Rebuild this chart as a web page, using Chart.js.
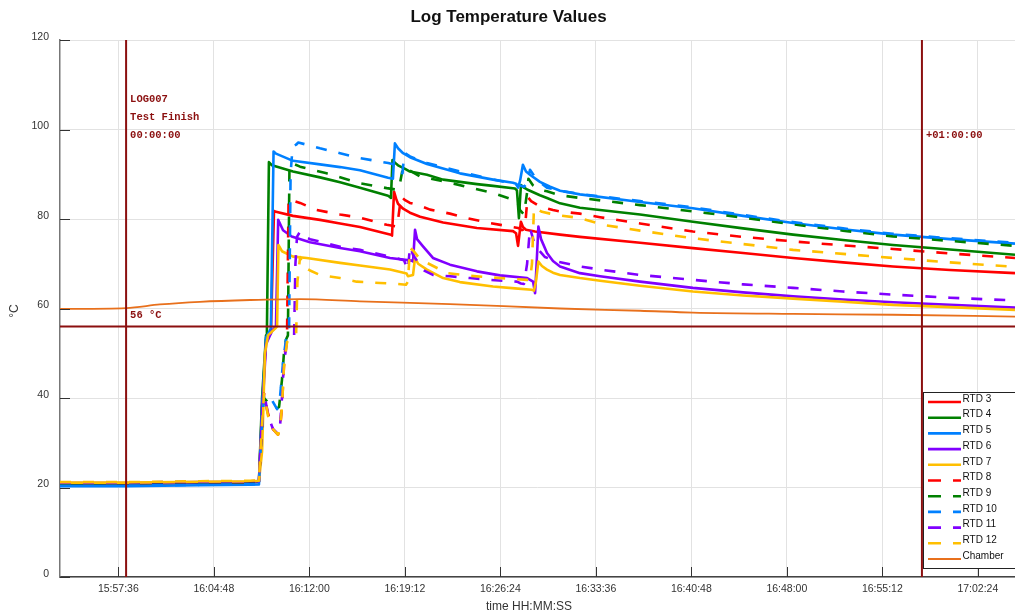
<!DOCTYPE html>
<html>
<head>
<meta charset="utf-8">
<title>Log Temperature Values</title>
<script src="https://cdn.jsdelivr.net/npm/chart.js@4.4.0/dist/chart.umd.min.js"></script>
<style>
    html, body { margin: 0; padding: 0; background: #fff; overflow: hidden; }
    canvas { display: block; }
</style>
</head>
<body>
<canvas id="chart" width="1015" height="615"></canvas>
<script>
// axis range and ticks
const xStart = '15:53:12';
const xEnd = '17:05:12';
const xTickLabels = ['15:57:36', '16:04:48', '16:12:00', '16:19:12', '16:26:24',
                     '16:33:36', '16:40:48', '16:48:00', '16:55:12', '17:02:24'];
const yTickValues = [0, 20, 40, 60, 80, 100, 120];

// event markers
const markerTimes = ['15:58:11', '16:58:11'];
const markerNotes = [['LOG007', 'Test Finish', '00:00:00'], ['+01:00:00']];
const thresholdValue = 56;
const thresholdNote = '56 °C';

const seriesNames = ['RTD 3', 'RTD 4', 'RTD 5', 'RTD 6', 'RTD 7', 'RTD 8',
                     'RTD 9', 'RTD 10', 'RTD 11', 'RTD 12', 'Chamber'];

// RTD 3
const rtd3Times = ['15:53:12','15:58:11','16:03:45','16:07:32','16:08:12','16:08:26','16:08:44','16:09:06','16:09:20','16:09:29',
    '16:10:46','16:12:48','16:14:19','16:15:49','16:18:09','16:18:14','16:18:23','16:18:32','16:18:41','16:19:04',
    '16:19:35','16:20:21','16:22:05','16:24:38','16:27:21','16:27:35','16:27:44','16:27:57','16:28:06','16:28:20',
    '16:29:01','16:30:54','16:32:24','16:36:56','16:40:55','16:44:42','16:48:28','16:52:14','16:56:00','17:00:18','17:05:12'];
const rtd3Values = [20.7,20.8,21.0,21.1,21.3,38,53,54.5,81.8,81.6,
    80.7,79.8,79.0,78.2,76.5,76.3,86.1,84.6,83.4,82.3,
    81.4,80.5,79.2,78.0,77.3,76.8,74.0,79.4,78.2,77.6,
    77.2,76.5,76.0,74.7,73.5,72.4,71.3,70.3,69.4,68.6,67.9];

// RTD 4
const rtd4Times = ['15:53:12','15:58:11','16:03:45','16:07:32','16:08:12','16:08:26','16:08:44','16:08:48','16:08:57','16:09:11',
    '16:10:46','16:12:48','16:14:19','16:15:49','16:17:56','16:18:05','16:18:09','16:18:16','16:18:27','16:18:41',
    '16:19:13','16:19:35','16:20:52','16:22:05','16:24:38','16:25:51','16:27:30','16:27:39','16:27:48','16:27:57',
    '16:28:11','16:28:25','16:29:23','16:29:55','16:30:54','16:32:24','16:36:56','16:40:55','16:44:42','16:48:28',
    '16:52:14','16:56:00','17:00:18','17:05:12'];
const rtd4Values = [20.8,20.9,21.1,21.2,21.3,40,54,55,92.7,92.0,
    90.6,89.3,88.2,87.0,85.2,84.9,84.7,93.2,92.6,92.0,
    91.2,90.6,89.9,88.8,87.8,87.4,86.8,86.4,80.2,87.6,
    87.0,86.6,85.3,84.7,83.5,82.5,81.0,79.4,77.9,76.5,
    75.3,74.2,73.2,72.0];

// RTD 5
const rtd5Times = ['15:53:12','15:58:11','16:03:45','16:07:32','16:08:12','16:08:26','16:08:44','16:09:06','16:09:18','16:09:29',
    '16:10:46','16:12:48','16:14:19','16:15:49','16:17:56','16:18:18','16:18:27','16:18:41','16:19:04','16:19:35',
    '16:20:52','16:23:21','16:25:51','16:27:21','16:27:35','16:27:44','16:27:53','16:28:06','16:28:20','16:28:38',
    '16:29:23','16:30:09','16:30:54','16:32:24','16:36:56','16:40:55','16:44:42','16:48:28','16:52:14','16:56:00',
    '17:00:18','17:05:12'];
const rtd5Values = [20.3,20.3,20.5,20.6,20.7,38,53.5,55.5,95.1,94.6,
    93.0,92.2,91.6,90.9,89.2,89.0,96.9,95.8,94.7,93.8,
    92.3,90.2,88.8,88.1,87.9,87.0,88.5,92.1,90.6,89.9,
    88.3,87.2,86.3,85.5,83.8,82.4,80.7,79.1,77.7,76.5,
    75.5,74.5];

// RTD 6
const rtd6Times = ['15:53:12','15:58:11','16:03:45','16:07:32','16:08:12','16:08:26','16:08:44','16:09:11','16:09:29','16:09:39',
    '16:10:01','16:10:40','16:12:03','16:14:19','16:15:49','16:18:05','16:19:43','16:19:49','16:19:58','16:20:07',
    '16:20:34','16:21:19','16:22:36','16:24:38','16:26:22','16:28:25','16:28:52','16:29:01','16:29:08','16:29:16',
    '16:29:28','16:29:55','16:30:22','16:30:54','16:32:24','16:33:55','16:36:56','16:40:55','16:44:42','16:48:28',
    '16:52:14','16:56:00','17:00:18','17:05:12'];
const rtd6Values = [21.0,21.0,21.2,21.3,21.4,36,52,55,56,79.8,
    77.5,76.1,74.8,73.5,72.8,71.3,70.7,70.5,77.6,75.5,
    73.9,71.3,69.8,68.3,67.4,66.8,66.0,63.4,70,78.3,
    75.5,72.4,70.6,69.4,67.9,67.2,66.0,64.6,63.6,62.7,
    62.0,61.4,60.8,60.2];

// RTD 7
const rtd7Times = ['15:53:12','15:58:11','16:03:45','16:07:32','16:08:12','16:08:26','16:08:39','16:08:53','16:09:25','16:09:34',
    '16:09:40','16:09:56','16:10:46','16:11:48','16:14:19','16:15:49','16:18:05','16:19:20','16:19:26','16:19:49',
    '16:19:58','16:20:12','16:20:52','16:22:05','16:23:21','16:25:51','16:27:30','16:28:46','16:28:56','16:29:05',
    '16:29:16','16:29:32','16:29:55','16:30:22','16:30:54','16:32:24','16:33:55','16:36:56','16:40:55','16:44:42',
    '16:48:28','16:52:14','16:56:00','17:00:18','17:05:12'];
const rtd7Values = [21.1,21.1,21.3,21.4,21.5,28,50,54,55.5,56,
    74.2,72.8,71.6,71.3,70.2,69.6,68.7,67.8,67.2,67.5,
    71.3,70.0,68.7,66.8,65.9,64.9,64.5,64.2,64.0,66,
    70.5,69.5,68.7,68.0,67.5,66.8,66.2,65.1,63.8,62.9,
    62.2,61.5,60.8,60.3,59.7];

// RTD 8
const rtd8Times = ['15:53:12','15:58:11','16:03:45','16:07:32','16:08:12','16:08:21','16:08:35','16:08:53','16:09:16','16:09:38',
    '16:09:47','16:09:56','16:10:05','16:10:14','16:10:19','16:10:26','16:10:40','16:11:18','16:12:33','16:14:19',
    '16:15:49','16:17:50','16:18:37','16:18:55','16:19:13','16:19:35','16:20:06','16:21:06','16:22:36','16:23:52',
    '16:25:37','16:27:21','16:27:44','16:28:02','16:28:15','16:28:27','16:28:43','16:29:23','16:30:22','16:30:54',
    '16:32:24','16:33:55','16:36:56','16:40:55','16:44:42','16:48:28','16:52:14','16:56:00','17:00:18','17:05:12'];
const rtd8Values = [20.8,20.9,21.2,21.3,21.4,30,41,36.5,33,31.8,
    33,38,47,53,54,84.5,84.2,83.6,82.0,81.0,
    80.3,78.7,78.3,85.0,84.2,83.6,83.2,82.1,81.2,80.2,
    79.1,78.2,78.0,77.5,77.8,85.0,84.0,82.8,82.0,81.7,
    81.2,80.4,79.0,77.2,76.0,75.0,74.1,73.3,72.3,71.3];

// RTD 9
const rtd9Times = ['15:53:12','15:58:11','16:03:45','16:07:32','16:08:12','16:08:21','16:08:35','16:08:53','16:09:11','16:09:29',
    '16:09:43','16:09:56','16:10:05','16:10:14','16:10:23','16:10:30','16:10:40','16:11:18','16:13:18','16:15:49',
    '16:17:50','16:18:41','16:18:50','16:19:04','16:19:35','16:20:21','16:22:36','16:25:51','16:27:21','16:27:39',
    '16:27:53','16:28:11','16:28:25','16:28:31','16:28:52','16:29:23','16:29:55','16:30:54','16:32:24','16:36:56',
    '16:40:55','16:44:42','16:48:28','16:52:14','16:56:00','17:00:18','17:05:12'];
const rtd9Values = [20.9,21.0,21.2,21.3,21.4,30,40,39,38,37.5,
    38,44,50,53,54,92.0,92.5,91.7,90.2,88.0,
    86.9,86.5,88,91.7,90.8,89.5,88.1,85.8,84.3,84.0,
    82,81,86,89,87.5,86.5,86.2,85.3,84.7,83.1,
    81.7,80.3,78.8,77.4,76.1,75.1,74.0];

// RTD 10
const rtd10Times = ['15:53:12','15:58:11','16:03:45','16:07:32','16:08:12','16:08:21','16:08:35','16:08:53','16:09:11','16:09:34',
    '16:09:47','16:10:01','16:10:14','16:10:28','16:10:35','16:10:44','16:11:00','16:11:10','16:12:48','16:14:19',
    '16:15:49','16:17:57','16:18:41','16:18:55','16:19:01','16:19:10','16:19:35','16:20:52','16:23:21','16:25:37',
    '16:27:08','16:27:53','16:28:11','16:28:25','16:28:38','16:28:52','16:29:23','16:29:55','16:30:54','16:32:24',
    '16:36:56','16:40:55','16:44:42','16:48:28','16:52:14','16:56:00','17:00:18','17:05:12'];
const rtd10Values = [20.4,20.4,20.6,20.7,20.8,30,40.5,40.7,39.5,37.5,
    40,48,53,54,90,96.1,96.6,97.1,95.8,94.7,
    93.6,92.5,92.0,90.5,90.2,94.8,94.0,92.5,90.6,89.0,
    88.0,87.5,87.2,88,91,90,88.2,87.0,86.3,85.6,
    84.0,82.6,80.9,79.3,77.9,76.7,75.7,74.7];

// RTD 11
const rtd11Times = ['15:53:12','15:58:11','16:03:45','16:07:32','16:08:12','16:08:21','16:08:35','16:08:53','16:09:16','16:09:38',
    '16:09:47','16:09:56','16:10:05','16:10:19','16:10:37','16:10:51','16:10:57','16:11:04','16:11:18','16:11:40',
    '16:12:03','16:14:19','16:15:49','16:18:05','16:19:08','16:19:26','16:19:35','16:19:49','16:20:34','16:21:19',
    '16:22:36','16:24:07','16:25:37','16:27:39','16:27:57','16:28:11','16:28:25','16:28:38','16:29:01','16:29:46',
    '16:30:40','16:32:24','16:34:08','16:36:56','16:40:55','16:44:42','16:48:28','16:52:14','16:56:00','17:00:18','17:05:12'];
const rtd11Values = [21.1,21.1,21.3,21.4,21.5,30,41.5,36,33,32,
    33.5,40,48,52.5,53.5,54,70,76,77.2,76.0,
    75.5,73.8,73.1,71.6,70.8,68.6,73.9,72.0,68.6,67.5,
    67.2,66.8,66.4,66.0,65.6,65.5,70,78,74,71.5,
    70.5,69.4,68.6,67.5,66.4,65.4,64.6,63.8,63.1,62.4,61.8];

// RTD 12
const rtd12Times = ['15:53:12','15:58:11','16:03:45','16:07:32','16:08:12','16:08:21','16:08:35','16:08:53','16:09:16','16:09:38',
    '16:09:47','16:09:56','16:10:05','16:10:19','16:10:42','16:11:00','16:11:06','16:11:18','16:11:31','16:12:03',
    '16:12:48','16:14:19','16:15:34','16:17:20','16:18:35','16:19:17','16:19:26','16:19:35','16:19:49','16:20:21',
    '16:20:52','16:22:23','16:24:07','16:26:22','16:28:25','16:28:38','16:28:47','16:28:56','16:29:10','16:29:32',
    '16:30:09','16:30:40','16:32:24','16:34:08','16:36:56','16:40:55','16:44:42','16:48:28','16:52:14','16:56:00',
    '17:00:18','17:05:12'];
const rtd12Values = [21.2,21.2,21.4,21.5,21.6,30,41,36,33,31.8,
    33,38,47,52.5,53.5,54,66,71.5,69.5,68.5,
    67.5,66.8,66.0,65.7,65.5,65.3,66,73.5,73,71,
    70.2,67.9,67.3,66.8,66.4,66.3,70,82.5,82.2,81.6,
    81.2,80.9,80.2,78.7,77.4,75.7,74.4,73.1,72.2,71.3,
    70.3,69.3];

// Chamber
const chamberTimes = ['15:53:12','15:58:11','16:00:44','16:03:45','16:07:32','16:11:18','16:15:49','16:22:36','16:30:54','16:36:56',
    '16:40:55','16:48:28','16:56:00','17:05:12'];
const chamberValues = [59.9,60.1,60.9,61.5,61.9,62.1,61.6,61.0,60.0,59.5,
    59.1,58.8,58.6,58.2];

const seriesTimes = [rtd3Times, rtd4Times, rtd5Times, rtd6Times, rtd7Times, rtd8Times,
                     rtd9Times, rtd10Times, rtd11Times, rtd12Times, chamberTimes];
const seriesValues = [rtd3Values, rtd4Values, rtd5Values, rtd6Values, rtd7Values, rtd8Values,
                      rtd9Values, rtd10Values, rtd11Values, rtd12Values, chamberValues];

const colors = ['#ff0000', '#008000', '#0080ff', '#8000ff', '#ffbf00',
                '#ff0000', '#008000', '#0080ff', '#8000ff', '#ffbf00', '#e8701c'];
const darkRed = '#8b0f0f';
const fontSans = '"Liberation Sans", Arial, sans-serif';
const fontMono = '"Liberation Mono", "Courier New", monospace';

function toSec(s) {
    const [h, m, sec] = s.split(':').map(Number);
    return h * 3600 + m * 60 + sec;
}

function fmtTime(v) {
    const pad = n => String(n).padStart(2, '0');
    const h = Math.floor(v / 3600);
    const m = Math.floor((v % 3600) / 60);
    const s = Math.round(v % 60);
    return `${pad(h)}:${pad(m)}:${pad(s)}`;
}

function toPoints(times, values) {
    if (times.length !== values.length) console.error('length mismatch', times.length, values.length);
    return times.map((t, i) => ({ x: toSec(t), y: values[i] }));
}

const datasets = seriesNames.map((name, i) => {
    const isChamber = name === 'Chamber';
    return {
        label: name,
        data: toPoints(seriesTimes[i], seriesValues[i]),
        borderColor: colors[i],
        borderWidth: isChamber ? 1.8 : 2.6,
        borderDash: (i >= 5 && !isChamber) ? [11, 12] : [],
        borderJoinStyle: 'round',
        pointRadius: 0,
        tension: 0,
        cubicInterpolationMode: isChamber ? 'monotone' : 'default',
        fill: false,
        order: -i
    };
});

const decor = {
    id: 'decor',
    afterDatasetsDraw(chart) {
        const { ctx, chartArea: a, scales: { x, y } } = chart;
        ctx.save();

        // tick marks pointing into the plot
        ctx.strokeStyle = '#333';
        ctx.lineWidth = 1;
        ctx.beginPath();
        x.ticks.forEach(t => {
            const px = Math.round(x.getPixelForValue(t.value)) + 0.5;
            ctx.moveTo(px, a.bottom);
            ctx.lineTo(px, a.bottom - 10);
        });
        y.ticks.forEach(t => {
            const py = Math.round(y.getPixelForValue(t.value)) + 0.5;
            ctx.moveTo(a.left, py);
            ctx.lineTo(a.left + 10, py);
        });
        ctx.stroke();

        // marker lines
        ctx.strokeStyle = darkRed;
        ctx.lineWidth = 2;
        ctx.beginPath();
        markerTimes.forEach(t => {
            const px = x.getPixelForValue(toSec(t));
            ctx.moveTo(px, a.top);
            ctx.lineTo(px, a.bottom);
        });
        const ty = y.getPixelForValue(thresholdValue);
        ctx.moveTo(a.left, ty);
        ctx.lineTo(a.right, ty);
        ctx.stroke();

        ctx.fillStyle = darkRed;
        ctx.font = `bold 10.5px ${fontMono}`;
        ctx.textAlign = 'left';
        ctx.textBaseline = 'middle';
        markerTimes.forEach((t, i) => {
            const px = x.getPixelForValue(toSec(t)) + 4;
            const lines = markerNotes[i];
            lines.forEach((line, k) => {
                ctx.fillText(line, px, 135 - (lines.length - 1 - k) * 18);
            });
        });
        ctx.fillText(thresholdNote, x.getPixelForValue(toSec(markerTimes[0])) + 4, ty - 11);

        // legend box
        const lx = 923.5, ly = 392.5, lw = 100, lh = 176;
        ctx.fillStyle = '#fff';
        ctx.fillRect(lx, ly, lw, lh);
        ctx.strokeStyle = '#222';
        ctx.lineWidth = 1;
        ctx.strokeRect(lx, ly, lw, lh);
        chart.data.datasets.forEach((ds, i) => {
            const rowY = 402 + i * 15.7;
            ctx.strokeStyle = ds.borderColor;
            ctx.lineWidth = ds.borderWidth;
            ctx.setLineDash(ds.borderDash.length ? [13, 12] : []);
            ctx.beginPath();
            ctx.moveTo(928, rowY);
            ctx.lineTo(961, rowY);
            ctx.stroke();
            ctx.setLineDash([]);
            ctx.fillStyle = '#111';
            ctx.font = `10px ${fontSans}`;
            ctx.textBaseline = 'middle';
            ctx.fillText(ds.label, 962.5, rowY - 3);
        });
        ctx.restore();
    },
    afterDraw(chart) {
        const { ctx } = chart;
        ctx.save();
        ctx.fillStyle = '#111';
        ctx.textAlign = 'center';
        ctx.textBaseline = 'middle';
        ctx.font = `bold 17px ${fontSans}`;
        ctx.fillText('Log Temperature Values', 508.5, 17);
        ctx.font = `12px ${fontSans}`;
        ctx.fillStyle = '#333';
        ctx.fillText('time HH:MM:SS', 529, 607);
        ctx.translate(15, 311);
        ctx.rotate(-Math.PI / 2);
        ctx.fillText('°C', 0, 0);
        ctx.restore();
    }
};

Chart.defaults.font.family = fontSans;

const chart = new Chart(document.getElementById('chart'), {
    type: 'line',
    data: { datasets: datasets },
    options: {
        responsive: false,
        animation: false,
        devicePixelRatio: 1,
        layout: { padding: { top: 40, right: 0, bottom: 0, left: 0 } },
        plugins: {
            legend: { display: false },
            title: { display: false },
            tooltip: { enabled: false }
        },
        scales: {
            x: {
                type: 'linear',
                min: toSec(xStart),
                max: toSec(xEnd),
                afterBuildTicks: s => { s.ticks = xTickLabels.map(l => ({ value: toSec(l) })); },
                afterFit: s => { s.height = 38; },
                ticks: {
                    callback: v => fmtTime(v),
                    autoSkip: false,
                    maxRotation: 0,
                    padding: 6,
                    color: '#333',
                    font: { size: 10.5 }
                },
                grid: { color: '#e2e2e2', drawTicks: false },
                border: { color: '#444', width: 1.5 }
            },
            y: {
                min: 0,
                max: 120,
                afterBuildTicks: s => { s.ticks = yTickValues.map(v => ({ value: v })); },
                afterFit: s => { s.width = 60; },
                ticks: {
                    padding: 11,
                    labelOffset: -3,
                    color: '#333',
                    font: { size: 10.5 }
                },
                grid: { color: '#e2e2e2', drawTicks: false },
                border: { color: '#777', width: 1.5 }
            }
        }
    },
    plugins: [decor]
});
</script>
</body>
</html>
